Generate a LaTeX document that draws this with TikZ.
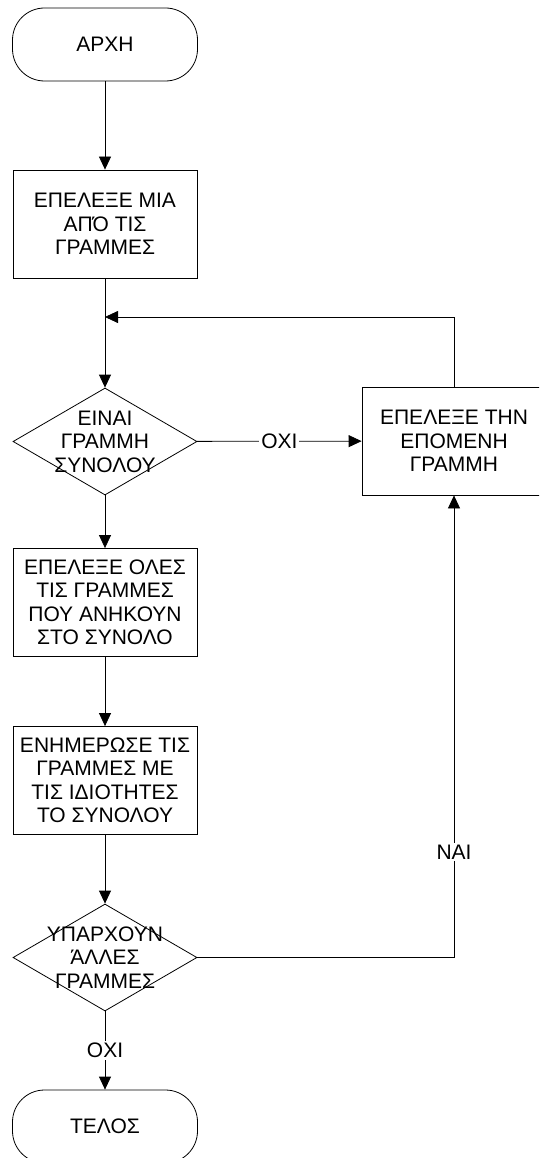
\documentclass[tikz,border=0pt]{standalone}
\usepackage{fontspec}
\setmainfont{Liberation Sans}
\usetikzlibrary{shapes.geometric,arrows.meta}
\begin{document}
\begin{tikzpicture}[x=1pt,y=-1pt,line width=0.8pt]
    \clip (0,0) rectangle (539,1158);
    \tikzstyle{txt} = [font=\fontsize{21}{23.5}\selectfont,align=center]
    \tikzstyle{terminal} = [txt,draw,rectangle,rounded corners=32pt,minimum width=185pt,minimum height=73pt]
    \tikzstyle{process} = [txt,draw,rectangle,minimum width=184pt,minimum height=108pt,inner sep=0pt]
    \tikzstyle{decision} = [draw,diamond,minimum width=184pt,minimum height=107pt,inner sep=0pt]
    \tikzstyle{flow} = [-{Triangle[length=13pt,width=12pt]}]
    \tikzstyle{answer} = [txt,fill=white,inner sep=2pt]
    \node[terminal] (start) at (105,44.5) {ΑΡΧΗ};
    \node[process] (pick) at (105,224) {ΕΠΕΛΕΞΕ ΜΙΑ\\ΑΠΌ ΤΙΣ\\ΓΡΑΜΜΕΣ};
    \coordinate (join) at (105,317);
    \node[decision] (ask) at (105,441.5) {};
    \node[txt] (asktext) at (ask) {ΕΙΝΑΙ\\ΓΡΑΜΜΗ\\ΣΥΝΟΛΟΥ};
    \node[process] (next) at (454,441) {ΕΠΕΛΕΞΕ ΤΗΝ\\ΕΠΟΜΕΝΗ\\ΓΡΑΜΜΗ};
    \node[process] (group) at (105,602.5) {ΕΠΕΛΕΞΕ ΟΛΕΣ\\ΤΙΣ ΓΡΑΜΜΕΣ\\ΠΟΥ ΑΝΗΚΟΥΝ\\ΣΤΟ ΣΥΝΟΛΟ};
    \node[process] (update) at (105,780.5) {ΕΝΗΜΕΡΩΣΕ ΤΙΣ\\ΓΡΑΜΜΕΣ ΜΕ\\ΤΙΣ ΙΔΙΟΤΗΤΕΣ\\ΤΟ ΣΥΝΟΛΟΥ};
    \node[decision] (more) at (105,957.5) {};
    \node[txt] (moretext) at (more) {ΥΠΑΡΧΟΥΝ\\ΆΛΛΕΣ\\ΓΡΑΜΜΕΣ};
    \node[terminal] (end) at (105,1126.5) {ΤΕΛΟΣ};
    \draw[flow] (start) -- (pick);
    \draw (pick) -- (join);
    \draw[flow] (join) -- (ask);
    \draw[flow] (ask) -- node[answer] {ΟΧΙ} (next);
    \draw[flow] (next.north) |- (join);
    \draw[flow] (ask) -- (group);
    \draw[flow] (group) -- (update);
    \draw[flow] (update) -- (more);
    \draw[flow] (more) -- node[answer] {ΟΧΙ} (end);
    \draw[flow] (more.east) -| node[answer,pos=0.614] {ΝΑΙ} (next.south);
\end{tikzpicture}
\end{document}
